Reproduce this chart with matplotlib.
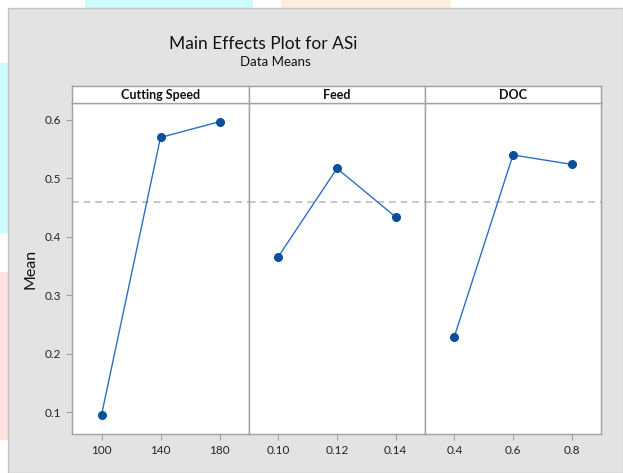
import matplotlib
matplotlib.use("Agg")
import matplotlib.pyplot as plt
from matplotlib.patches import Rectangle

plt.rcParams["font.family"] = ["Lato", "DejaVu Sans"]

# Data
factors = ["Cutting Speed", "Feed", "DOC"]
speed_levels = [100, 140, 180]
speed_means = [0.095, 0.570, 0.597]
feed_levels = [0.10, 0.12, 0.14]
feed_means = [0.366, 0.517, 0.434]
doc_levels = [0.4, 0.6, 0.8]
doc_means = [0.229, 0.540, 0.524]
grand_mean = 0.459

speed_ticks = ["100", "140", "180"]
feed_ticks = ["0.10", "0.12", "0.14"]
doc_ticks = ["0.4", "0.6", "0.8"]
y_ticks = [0.1, 0.2, 0.3, 0.4, 0.5, 0.6]

W, H = 623, 473
fig = plt.figure(figsize=(W / 100, H / 100), dpi=100, facecolor="white")

# faint background shapes outside the chart frame
bg = fig.add_axes([0, 0, 1, 1], zorder=-10)
bg.set_xlim(0, W)
bg.set_ylim(H, 0)
bg.axis("off")
bg.add_patch(Rectangle((85, 0), 168, 8, color="#ccfcfc", lw=0))
bg.add_patch(Rectangle((281, 0), 170, 8, color="#ffeedd", lw=0))
bg.add_patch(Rectangle((0, 63), 8, 170, color="#ccfcfc", lw=0))
bg.add_patch(Rectangle((0, 272), 8, 168, color="#ffe3e3", lw=0))
bg.add_patch(Rectangle((8, 8), W - 8, H - 8, facecolor="#e3e3e3", edgecolor="#c4c4c4", lw=1))

fig.text(263 / W, 1 - 44 / H, "Main Effects Plot for ASi", ha="center", va="center",
         fontsize=12.5, color="#111111")
fig.text(275 / W, 1 - 62 / H, "Data Means", ha="center", va="center", fontsize=9.5,
         color="#111111")

line_color = "#2f6fbf"
marker_color = "#0b4f9c"
edge_gray = "#a0a0a0"

panels = [
    (speed_levels, speed_means, speed_ticks, (80, 200)),
    (feed_levels, feed_means, feed_ticks, (0.09, 0.15)),
    (doc_levels, doc_means, doc_ticks, (0.3, 0.9)),
]
edges = [72, 249, 425, 601]
top, bottom, header_top = 103, 434, 86

for i, (x, y, labels, xlim) in enumerate(panels):
    x0, x1 = edges[i], edges[i + 1]
    ax = fig.add_axes([x0 / W, 1 - bottom / H, (x1 - x0) / W, (bottom - top) / H])
    ax.set_facecolor("white")
    ax.plot(x, y, color=line_color, lw=1, marker="o", ms=5.5,
            mfc=marker_color, mec=marker_color, zorder=3)
    ax.axhline(grand_mean, color="#bdbdbd", lw=1.2, ls=(0, (4, 3)), zorder=2)
    ax.set_xlim(*xlim)
    ax.set_ylim(0.0625, 0.629)
    ax.set_xticks(x)
    ax.set_xticklabels(labels)
    ax.set_yticks(y_ticks)
    for s in ax.spines.values():
        s.set_color(edge_gray)
        s.set_linewidth(1)
    ax.tick_params(axis="both", direction="out", length=4, color=edge_gray,
                   labelsize=8.5, labelcolor="#222222", pad=4)
    if i == 0:
        ax.set_yticklabels([f"{v:.1f}" for v in y_ticks])
        ax.set_ylabel("Mean", fontsize=11.5, labelpad=5, color="#111111")
    else:
        ax.tick_params(axis="y", left=False, labelleft=False)

    hx = fig.add_axes([x0 / W, 1 - top / H, (x1 - x0) / W, (top - header_top) / H])
    hx.set_facecolor("white")
    hx.set_xticks([])
    hx.set_yticks([])
    for s in hx.spines.values():
        s.set_color(edge_gray)
        s.set_linewidth(1)
    hx.text(0.5, 0.45, factors[i], ha="center", va="center", fontsize=9,
            fontweight="bold", color="#111111", transform=hx.transAxes)

fig.savefig("out.png", dpi=100, facecolor=fig.get_facecolor())
